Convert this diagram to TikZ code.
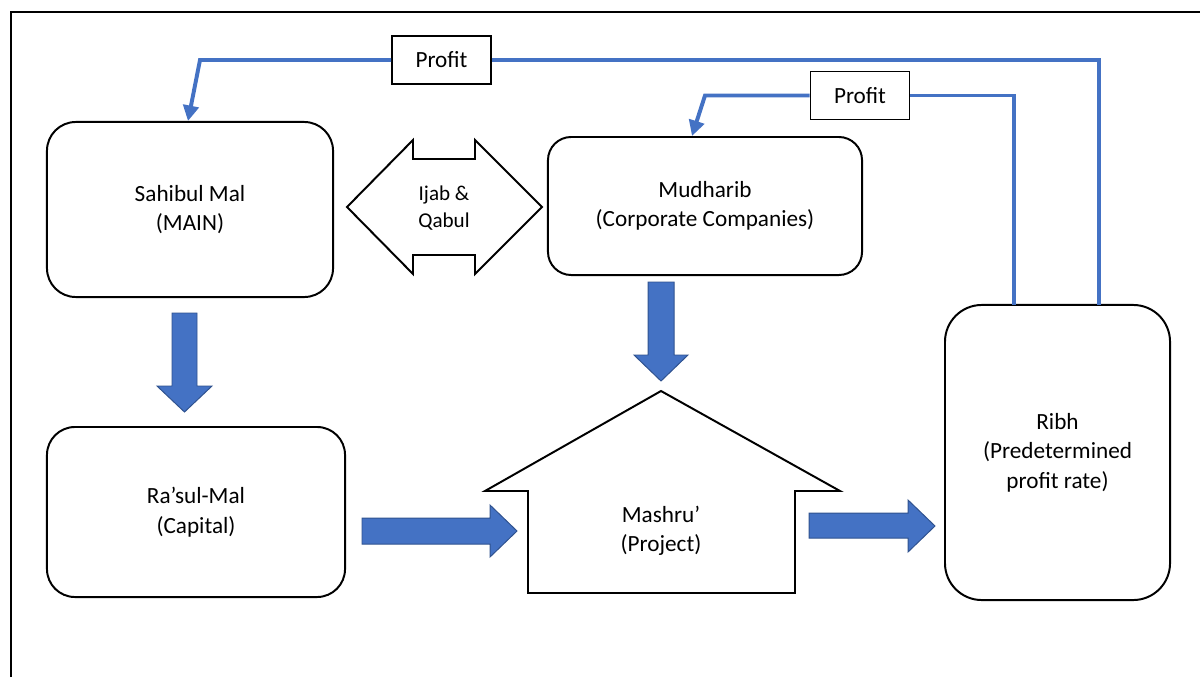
\documentclass[tikz,border=0pt]{standalone}
\usepackage{fontspec}
\setmainfont{Carlito}
\usetikzlibrary{positioning,arrows.meta}
\definecolor{officeblue}{HTML}{4472C4}
\definecolor{officeedge}{HTML}{2F528F}
\tikzset{
  stage/.style={draw, line width=1.4pt, align=center, font=\fontsize{16.5}{21}\selectfont},
  tag/.style={draw, line width=1pt, minimum width=2.48cm, minimum height=1.2cm, font=\fontsize{16.5}{20.5}\selectfont},
  profitline/.style={officeblue, line width=2.8pt},
  blockarrow/.style={fill=officeblue, draw=officeedge, line width=0.7pt},
}

\begin{document}
\begin{tikzpicture}[x=0.025cm, y=-0.025cm]
\useasboundingbox (0,0) rectangle (1200,677);
\draw[line width=1.3pt] (11,677) -- (11,12) -- (1200,12);

\node[stage, minimum width=7.15cm, minimum height=4.375cm, rounded corners=0.72cm] (sahib) at (190,209.5) {Sahibul Mal\\(MAIN)};
\node[stage, minimum width=7.45cm, minimum height=4.25cm, rounded corners=0.7cm] (rasul) at (196,512) {Ra’sul-Mal\\(Capital)};
\node[stage, minimum width=7.85cm, minimum height=3.45cm, rounded corners=0.58cm] (mudh) at (705,206) {Mudharib\\(Corporate Companies)};
\node[stage, minimum width=5.625cm, minimum height=7.375cm, rounded corners=0.92cm] (ribh) at (1057.5,452.5) {Ribh\\(Predetermined\\profit rate)};

\draw[line width=1.4pt, fill=white] (528,593) -- (528,491) -- (485,491) -- (661,391) -- (840,491) -- (795,491) -- (795,593) -- cycle;
\node[stage, draw=none] (mashru) at (661,531) {Mashru’\\(Project)};

\draw[line width=1.4pt, fill=white] (347,207) -- (413,140) -- (413,159) -- (475,159) -- (475,140) -- (542,207) -- (475,274) -- (475,255) -- (413,255) -- (413,274) -- cycle;
\node[stage, draw=none, font=\fontsize{15}{19}\selectfont] (ijab) at (444,208) {Ijab \&\\Qabul};

\draw[blockarrow] (172,313) -- (197,313) -- (197,386) -- (212,386) -- (184.5,412) -- (157,386) -- (172,386) -- cycle;
\draw[blockarrow] (648,282) -- (674,282) -- (674,355) -- (688,355) -- (661,381) -- (634,355) -- (648,355) -- cycle;
\draw[blockarrow] (362,518) -- (490,518) -- (490,505) -- (517,531) -- (490,557) -- (490,544) -- (362,544) -- cycle;
\draw[blockarrow] (809,513) -- (908,513) -- (908,500) -- (935,526) -- (908,552) -- (908,538) -- (809,538) -- cycle;

\node[tag] (p1) at (441.5,60) {Profit};
\node[tag] (p2) at (860,95.5) {Profit};

\coordinate (ribhA) at (1099,305);
\coordinate (ribhB) at (1014,305);
\coordinate (bendA) at (200,60);
\coordinate (bendB) at (705,95.5);
\coordinate (tipA) at (188,121);
\coordinate (tipB) at (692,136);

\draw[profitline] (ribhA) |- (p1.east);
\draw[profitline, -{Triangle[length=11pt,width=11pt]}] (p1.west) -- (bendA) -- (tipA);
\draw[profitline] (ribhB) |- (p2.east);
\draw[profitline, -{Triangle[length=11pt,width=11pt]}] (p2.west) -- (bendB) -- (tipB);
\end{tikzpicture}
\end{document}
